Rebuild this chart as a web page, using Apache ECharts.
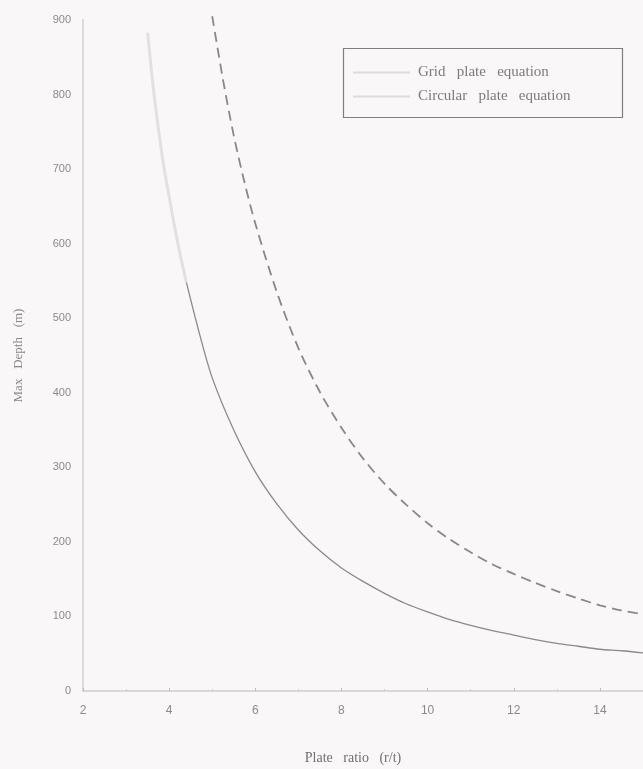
<!DOCTYPE html>
<html>
<head>
<meta charset="utf-8">
<script src="https://cdn.jsdelivr.net/npm/echarts@6/dist/echarts.min.js"></script>
<style>
  html, body { margin: 0; padding: 0; background: #faf7f8; }
  #chart { width: 643px; height: 769px; }
</style>
</head>
<body>
<div id="chart"></div>
<script>
// values
const gridX = [5.0, 5.25, 5.5, 5.75, 6.0, 6.5, 7.0, 7.5, 8.0, 8.5, 9.0, 9.5, 10, 10.5, 11, 11.5, 12, 12.5, 13, 13.5, 14, 14.5, 15];
const gridDepth = [905, 820, 745, 682, 627, 535, 460, 401, 353, 312, 278, 250, 225, 204, 186, 170, 157, 145, 134, 124, 115, 108, 103];

const circX = [3.5, 3.65, 3.85, 4.0, 4.2, 4.4, 4.7, 5.0, 5.5, 6.0, 6.5, 7.0, 7.5, 8.0, 8.5, 9.0, 9.5, 10, 10.5, 11, 11.5, 12, 12.5, 13, 13.5, 14, 14.5, 15];
const circDepth = [883, 800, 713, 663, 601, 548, 480, 420, 350, 294, 251, 216, 188, 165, 147, 131, 117, 106, 96, 88, 81, 75, 69, 64, 60, 56, 54, 51];

const seriesNames = ['Grid   plate   equation', 'Circular   plate   equation'];

// the top of the circular curve is washed out in the scan
const fadeBelow = 4.4;

const circPts = circX.map((x, i) => [x, circDepth[i]]);
const circFaint = circPts.filter(p => p[0] <= fadeBelow);
const circDark = circPts.filter(p => p[0] >= fadeBelow);

const chart = echarts.init(document.getElementById('chart'));

chart.setOption({
    backgroundColor: '#faf7f8',
    animation: false,
    grid: { left: 83, right: 0, top: 20, bottom: 78, outerBoundsMode: 'none', containLabel: false },
    graphic: [{
        type: 'rect',
        shape: { x: 343.5, y: 48.5, width: 279, height: 69 },
        style: { fill: 'none', stroke: '#807d80', lineWidth: 1.2 },
        z: 100
    }],
    legend: {
        orient: 'vertical',
        left: 343,
        top: 48,
        padding: [17, 10, 10, 10],
        itemGap: 9,
        icon: 'rect',
        itemWidth: 57,
        itemHeight: 2,
        itemStyle: { color: '#dedbdd' },
        textStyle: {
            fontFamily: 'Liberation Serif',
            fontSize: 15,
            lineHeight: 14,
            color: '#7d7a7d',
            padding: [0, 0, 0, 3]
        },
        data: seriesNames
    },
    xAxis: {
        type: 'value',
        min: 2,
        max: 15,
        interval: 2,
        name: 'Plate   ratio   (r/t)',
        nameLocation: 'middle',
        nameGap: 60,
        nameTextStyle: {
            fontFamily: 'Liberation Serif',
            fontSize: 14,
            color: '#716e71',
            padding: [0, 20, 0, 0]
        },
        axisLine: { lineStyle: { color: '#cfcbce', width: 1.5 } },
        axisTick: { inside: true, length: 3, lineStyle: { color: '#bdb9bc' } },
        minorTick: { show: true, splitNumber: 2, length: 2, lineStyle: { color: '#cfcbce' } },
        axisLabel: {
            margin: 14,
            showMaxLabel: false,
            fontFamily: 'Liberation Sans',
            fontSize: 12,
            color: '#8c898c'
        },
        splitLine: { show: false }
    },
    yAxis: {
        type: 'value',
        min: 0,
        max: 900,
        interval: 100,
        name: 'Max   Depth   (m)',
        nameLocation: 'middle',
        nameGap: 58,
        nameTextStyle: {
            fontFamily: 'Liberation Serif',
            fontSize: 13,
            color: '#8a878a'
        },
        axisLine: { show: true, lineStyle: { color: '#dcd8db', width: 2 } },
        axisTick: { show: false },
        axisLabel: {
            margin: 12,
            fontFamily: 'Liberation Sans',
            fontSize: 11,
            color: '#8c898c'
        },
        splitLine: { show: false }
    },
    series: [
        {
            name: seriesNames[0],
            type: 'line',
            data: gridX.map((x, i) => [x, gridDepth[i]]),
            symbol: 'none',
            smooth: 0.3,
            clip: false,
            lineStyle: { color: '#8a878b', width: 1.8, type: [10, 6] }
        },
        {
            name: seriesNames[1],
            type: 'line',
            data: circDark,
            symbol: 'none',
            smooth: 0.3,
            clip: false,
            lineStyle: { color: '#8c898d', width: 1.3 }
        },
        {
            name: 'faded',
            type: 'line',
            data: circFaint,
            symbol: 'none',
            smooth: 0.3,
            clip: false,
            silent: true,
            lineStyle: { color: '#e4e0e2', width: 3 }
        }
    ]
});
</script>
</body>
</html>
